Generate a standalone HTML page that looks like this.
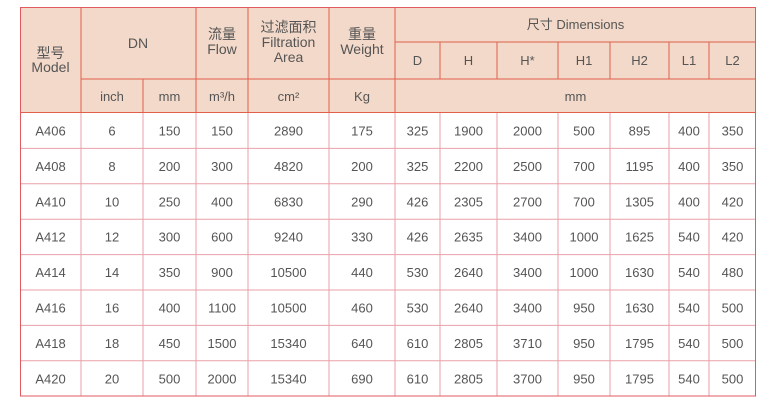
<!DOCTYPE html>
<html><head><meta charset="utf-8"><style>
html,body{margin:0;padding:0;background:#fff;width:778px;height:409px;overflow:hidden}
svg{display:block}
text{font-family:"Liberation Sans","Noto Sans CJK SC",sans-serif;font-size:13px;fill:#555;text-anchor:middle}
.h{font-size:14px}
</style></head><body>
<svg width="778" height="409" viewBox="0 0 778 409">
<rect x="20" y="7" width="736" height="106" fill="#f3d9c9"/>
<g stroke="#e8a0a8" stroke-width="1">
<line x1="20" y1="148.4" x2="756" y2="148.4"/>
<line x1="20" y1="183.8" x2="756" y2="183.8"/>
<line x1="20" y1="219.2" x2="756" y2="219.2"/>
<line x1="20" y1="254.6" x2="756" y2="254.6"/>
<line x1="20" y1="290" x2="756" y2="290"/>
<line x1="20" y1="325.4" x2="756" y2="325.4"/>
<line x1="20" y1="360.8" x2="756" y2="360.8"/>
<g>
<line x1="81" y1="113" x2="81" y2="396"/><line x1="143" y1="113" x2="143" y2="396"/>
<line x1="196" y1="113" x2="196" y2="396"/><line x1="248" y1="113" x2="248" y2="396"/>
<line x1="329" y1="113" x2="329" y2="396"/><line x1="395" y1="113" x2="395" y2="396"/>
<line x1="440" y1="113" x2="440" y2="396"/><line x1="497" y1="113" x2="497" y2="396"/>
<line x1="558" y1="113" x2="558" y2="396"/><line x1="610" y1="113" x2="610" y2="396"/>
<line x1="669" y1="113" x2="669" y2="396"/><line x1="709" y1="113" x2="709" y2="396"/>
</g>
</g>
<g stroke="#e0604a" stroke-width="1" fill="none">
<rect x="20.5" y="7.5" width="735" height="105"/>
<line x1="81" y1="7" x2="81" y2="113"/><line x1="196" y1="7" x2="196" y2="113"/>
<line x1="248" y1="7" x2="248" y2="113"/><line x1="329" y1="7" x2="329" y2="113"/>
<line x1="395" y1="7" x2="395" y2="113"/>
<line x1="143" y1="79" x2="143" y2="113"/>
<line x1="81" y1="79" x2="395" y2="79"/>
<line x1="395" y1="42" x2="756" y2="42"/>
<line x1="395" y1="79" x2="756" y2="79"/>
<line x1="440" y1="42" x2="440" y2="79"/><line x1="497" y1="42" x2="497" y2="79"/>
<line x1="558" y1="42" x2="558" y2="79"/><line x1="610" y1="42" x2="610" y2="79"/>
<line x1="669" y1="42" x2="669" y2="79"/><line x1="709" y1="42" x2="709" y2="79"/>
</g>
<rect x="20.5" y="7.5" width="735" height="388.5" fill="none" stroke="#e05a60" stroke-width="1"/>
<text class="h" x="50.5" y="58">型号</text><text class="h" x="50.5" y="72">Model</text>
<text class="h" x="138" y="48">DN</text>
<text class="h" x="222" y="39">流量</text><text class="h" x="222" y="54">Flow</text>
<text class="h" x="288.5" y="32">过滤面积</text><text class="h" x="288.5" y="47">Filtration</text><text class="h" x="288.5" y="62">Area</text>
<text class="h" x="362" y="39">重量</text><text class="h" x="362" y="54">Weight</text>
<text x="575.5" y="29">尺寸 Dimensions</text>
<text y="65"><tspan x="417.5">D</tspan><tspan x="468.5">H</tspan><tspan x="527.5">H*</tspan><tspan x="584">H1</tspan><tspan x="639.5">H2</tspan><tspan x="689">L1</tspan><tspan x="732.5">L2</tspan></text>
<text y="101"><tspan x="112">inch</tspan><tspan x="169.5">mm</tspan><tspan x="222">m³/h</tspan><tspan x="288.5">cm²</tspan><tspan x="362">Kg</tspan><tspan x="575.5">mm</tspan></text>
<text y="135.5"><tspan x="50.5">A406</tspan><tspan x="112">6</tspan><tspan x="169.5">150</tspan><tspan x="222">150</tspan><tspan x="288.5">2890</tspan><tspan x="362">175</tspan><tspan x="417.5">325</tspan><tspan x="468.5">1900</tspan><tspan x="527.5">2000</tspan><tspan x="584">500</tspan><tspan x="639.5">895</tspan><tspan x="689">400</tspan><tspan x="732.5">350</tspan></text>
<text y="170.9"><tspan x="50.5">A408</tspan><tspan x="112">8</tspan><tspan x="169.5">200</tspan><tspan x="222">300</tspan><tspan x="288.5">4820</tspan><tspan x="362">200</tspan><tspan x="417.5">325</tspan><tspan x="468.5">2200</tspan><tspan x="527.5">2500</tspan><tspan x="584">700</tspan><tspan x="639.5">1195</tspan><tspan x="689">400</tspan><tspan x="732.5">350</tspan></text>
<text y="206.3"><tspan x="50.5">A410</tspan><tspan x="112">10</tspan><tspan x="169.5">250</tspan><tspan x="222">400</tspan><tspan x="288.5">6830</tspan><tspan x="362">290</tspan><tspan x="417.5">426</tspan><tspan x="468.5">2305</tspan><tspan x="527.5">2700</tspan><tspan x="584">700</tspan><tspan x="639.5">1305</tspan><tspan x="689">400</tspan><tspan x="732.5">420</tspan></text>
<text y="241.7"><tspan x="50.5">A412</tspan><tspan x="112">12</tspan><tspan x="169.5">300</tspan><tspan x="222">600</tspan><tspan x="288.5">9240</tspan><tspan x="362">330</tspan><tspan x="417.5">426</tspan><tspan x="468.5">2635</tspan><tspan x="527.5">3400</tspan><tspan x="584">1000</tspan><tspan x="639.5">1625</tspan><tspan x="689">540</tspan><tspan x="732.5">420</tspan></text>
<text y="277.1"><tspan x="50.5">A414</tspan><tspan x="112">14</tspan><tspan x="169.5">350</tspan><tspan x="222">900</tspan><tspan x="288.5">10500</tspan><tspan x="362">440</tspan><tspan x="417.5">530</tspan><tspan x="468.5">2640</tspan><tspan x="527.5">3400</tspan><tspan x="584">1000</tspan><tspan x="639.5">1630</tspan><tspan x="689">540</tspan><tspan x="732.5">480</tspan></text>
<text y="312.5"><tspan x="50.5">A416</tspan><tspan x="112">16</tspan><tspan x="169.5">400</tspan><tspan x="222">1100</tspan><tspan x="288.5">10500</tspan><tspan x="362">460</tspan><tspan x="417.5">530</tspan><tspan x="468.5">2640</tspan><tspan x="527.5">3400</tspan><tspan x="584">950</tspan><tspan x="639.5">1630</tspan><tspan x="689">540</tspan><tspan x="732.5">500</tspan></text>
<text y="347.9"><tspan x="50.5">A418</tspan><tspan x="112">18</tspan><tspan x="169.5">450</tspan><tspan x="222">1500</tspan><tspan x="288.5">15340</tspan><tspan x="362">640</tspan><tspan x="417.5">610</tspan><tspan x="468.5">2805</tspan><tspan x="527.5">3710</tspan><tspan x="584">950</tspan><tspan x="639.5">1795</tspan><tspan x="689">540</tspan><tspan x="732.5">500</tspan></text>
<text y="383.3"><tspan x="50.5">A420</tspan><tspan x="112">20</tspan><tspan x="169.5">500</tspan><tspan x="222">2000</tspan><tspan x="288.5">15340</tspan><tspan x="362">690</tspan><tspan x="417.5">610</tspan><tspan x="468.5">2805</tspan><tspan x="527.5">3700</tspan><tspan x="584">950</tspan><tspan x="639.5">1795</tspan><tspan x="689">540</tspan><tspan x="732.5">500</tspan></text>
</svg>
</body></html>
